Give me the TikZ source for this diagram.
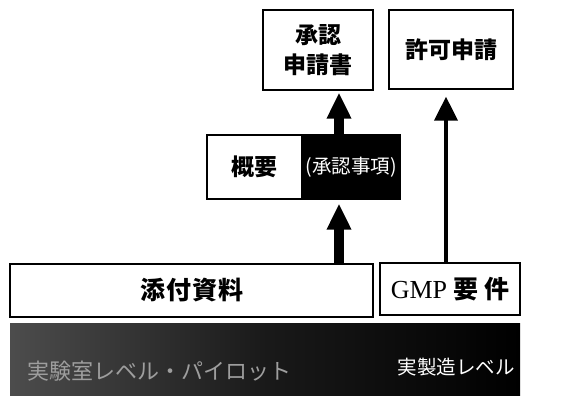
\documentclass[tikz,border=0pt]{standalone}
\usepackage{fontspec}
\newfontfamily\cjk{Noto Sans CJK JP}
\newfontfamily\tms{Liberation Serif}
\usetikzlibrary{arrows.meta}
\begin{document}
\begin{tikzpicture}[x=1pt,y=-1pt,
  box/.style={draw, line width=1.3pt, inner sep=0pt, align=center},
  lbl/.style={font=\cjk\bfseries\fontsize{23pt}{30pt}\selectfont},
  fatarrow/.style={line width=10pt, -{Triangle[width=23pt,length=26pt]}},
  thinarrow/.style={line width=4pt, -{Triangle[width=23pt,length=24pt]}}]
\useasboundingbox (0,0) rectangle (578,397);
% top boxes
\node[box, lbl, minimum width=110pt, minimum height=80pt] (shonin) at (318,50) {承認\\申請書};
\node[box, lbl, minimum width=124pt, minimum height=79pt] (kyoka) at (451,49.5) {\raisebox{-3pt}{許可申請}};
% middle box
\node[box, lbl, minimum width=95pt, minimum height=64pt] (gaiyo) at (254.5,167) {\raisebox{-2pt}{概要}};
\node[box, fill=black, text=white, minimum width=98pt, minimum height=64pt,
  font=\cjk\fontsize{19.5pt}{22pt}\selectfont] (jiko) at (351,167) {(承認事項)};
% lower boxes
\node[box, minimum width=363pt, minimum height=53pt,
  font=\cjk\bfseries\fontsize{25pt}{28pt}\selectfont] (tenpu) at (191.5,290.5)
  {\raisebox{-1pt}{添\hspace{1pt}付\hspace{1pt}資\hspace{1pt}料}};
\node[box, minimum width=140pt, minimum height=52pt] (gmp) at (450,289)
  {{\tms\fontsize{26pt}{30pt}\selectfont GMP}\hspace{6pt}{\cjk\bfseries\fontsize{25pt}{26pt}\selectfont 要\hspace{6pt}件}};
% bottom bar
\node[inner sep=0pt, minimum width=510pt, minimum height=72pt,
  left color=black!70, right color=black, middle color=black!90] (bar) at (265,359) {};
\node[text=black!38, font=\cjk\fontsize{22pt}{24pt}\selectfont, anchor=west] (lab) at (24,371) {実験室レベル・パイロット};
\node[text=white, font=\cjk\fontsize{19.5pt}{21pt}\selectfont] (jitsu) at (456,367) {実製造レベル};
% arrows
\coordinate (ax1) at (339,0);
\coordinate (ax2) at (446,0);
\draw[fatarrow, shorten >=2pt] (jiko.north -| ax1) -- (shonin.south -| ax1);
\draw[fatarrow, shorten >=4pt] (tenpu.north -| ax1) -- (jiko.south -| ax1);
\draw[thinarrow, shorten >=7pt] (gmp.north -| ax2) -- (kyoka.south -| ax2);
\end{tikzpicture}
\end{document}
